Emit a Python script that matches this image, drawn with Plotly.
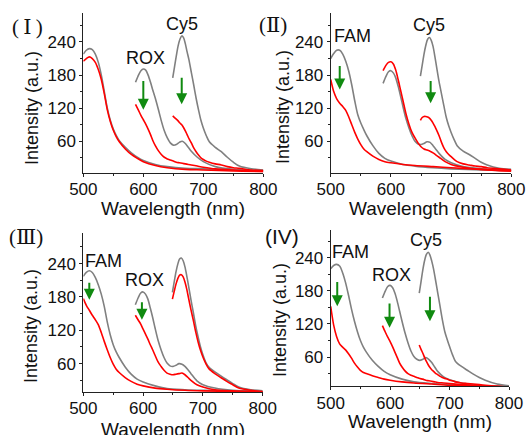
import plotly.graph_objects as go
from plotly.subplots import make_subplots

# ---------------- data ----------------
FAM_X = [500, 505, 510, 515, 520, 525, 530, 535, 540, 545, 550, 555, 560, 570, 580, 590, 600, 620, 640, 670, 700, 750, 800]
ROX_X = [587, 592, 596, 600, 604, 608, 612, 616, 620, 625, 630, 635, 640, 645, 650, 655, 660, 665, 670, 675, 680, 690, 700, 720, 750, 800]
CY5_X = [649, 652, 655, 658, 661, 664, 667, 670, 673, 676, 680, 684, 688, 692, 696, 700, 705, 710, 720, 730, 740, 750, 760, 780, 800]

# Panel I
P1_FAM_GRAY = [218, 225, 228, 226, 218, 203, 180, 150, 120, 98, 82, 70, 61, 49, 39, 31, 25, 18, 14, 11, 10, 8, 7]
P1_FAM_RED = [205, 210, 213, 210, 203, 190, 172, 146, 117, 96, 80, 68, 59, 46, 36, 29, 23, 16, 12, 9, 8, 6, 5]
P1_ROX_GRAY = [167, 180, 188, 191, 189, 180, 167, 152, 138, 118, 97, 79, 66, 57, 53, 54, 58, 60, 56, 49, 42, 31, 23, 14, 9, 6]
P1_ROX_RED = [127, 116, 107, 99, 91, 82, 72, 61, 52, 43, 36, 31, 28, 26, 24, 22, 21, 20, 19, 18, 17, 15, 13, 10, 8, 6]
P1_CY5_GRAY = [175, 195, 215, 233, 245, 251, 248, 237, 222, 208, 185, 162, 138, 117, 98, 84, 70, 59, 49, 41, 31, 22, 15, 10, 8]
P1_CY5_RED = [106, 103, 100, 97, 93, 90, 85, 79, 72, 65, 57, 48, 41, 35, 30, 27, 24, 22, 19, 17, 14, 12, 11, 8, 7]

# Panel II
P2_FAM_GRAY = [210, 219, 225, 225, 218, 205, 187, 162, 133, 108, 93, 81, 70, 52, 38, 29, 24, 18, 15, 12, 10, 8, 7]
P2_FAM_RED = [172, 150, 137, 129, 123, 116, 104, 90, 76, 64, 54, 46, 41, 33, 27, 23, 21, 18, 16, 14, 12, 9, 6]
P2_ROX_GRAY = [165, 178, 186, 188, 184, 175, 160, 142, 123, 101, 84, 70, 60, 55, 54, 56, 59, 58, 52, 45, 38, 27, 21, 14, 10, 7]
P2_ROX_RED = [188, 198, 203, 204, 200, 189, 172, 153, 134, 110, 91, 76, 66, 57, 50, 46, 44, 42, 39, 35, 31, 23, 18, 13, 9, 6]
P2_CY5_GRAY = [178, 198, 218, 234, 245, 248, 243, 232, 214, 194, 168, 146, 124, 103, 88, 76, 63, 52, 42, 36, 29, 22, 17, 11, 9]
P2_CY5_RED = [98, 103, 105, 105, 104, 102, 98, 93, 87, 80, 70, 58, 48, 41, 36, 32, 27, 23, 19, 17, 15, 14, 12, 10, 8]

# Panel III
P3_FAM_GRAY = [217, 224, 227, 224, 215, 202, 185, 163, 135, 112, 94, 81, 71, 54, 41, 32, 27, 20, 15, 13, 12, 11, 10]
P3_FAM_RED = [177, 165, 156, 147, 139, 130, 116, 100, 85, 71, 59, 50, 44, 35, 28, 23, 20, 16, 14, 12, 11, 10, 9]
P3_ROX_GRAY = [166, 179, 187, 189, 185, 176, 160, 143, 124, 102, 85, 71, 61, 56, 55, 57, 60, 59, 55, 49, 42, 29, 22, 16, 12, 10]
P3_ROX_RED = [147, 138, 131, 122, 113, 104, 94, 85, 75, 63, 55, 48, 43, 41, 40, 41, 42, 43, 40, 35, 30, 22, 18, 13, 11, 9]
P3_CY5_GRAY = [188, 207, 225, 239, 248, 250, 245, 234, 218, 200, 175, 152, 128, 108, 90, 76, 62, 54, 45, 38, 31, 24, 18, 13, 11]
P3_CY5_RED = [176, 190, 203, 213, 219, 220, 216, 207, 194, 178, 157, 138, 117, 99, 84, 72, 60, 51, 42, 35, 28, 22, 16, 12, 10]

# Panel IV
P4_FAM_GRAY = [220, 226, 228, 225, 213, 195, 172, 147, 125, 106, 90, 78, 69, 54, 43, 34, 28, 20, 15, 12, 10, 8, 7]
P4_FAM_RED = [152, 118, 97, 84, 78, 73, 66, 58, 49, 42, 36, 32, 30, 26, 23, 20, 18, 15, 13, 11, 9, 7, 6]
P4_ROX_GRAY = [167, 180, 188, 190, 186, 176, 161, 143, 125, 104, 86, 71, 61, 56, 54, 56, 59, 56, 50, 42, 34, 24, 19, 13, 9, 7]
P4_ROX_RED = [117, 105, 96, 88, 79, 69, 59, 49, 42, 35, 30, 27, 25, 23, 21, 20, 18, 17, 16, 15, 14, 13, 12, 10, 8, 6]
P4_CY5_GRAY = [176, 197, 218, 235, 246, 250, 245, 234, 220, 202, 177, 152, 127, 106, 92, 79, 64, 52, 43, 36, 29, 23, 18, 11, 8]
P4_CY5_RED = [82, 74, 67, 59, 52, 46, 41, 37, 34, 31, 28, 25, 23, 21, 20, 18, 17, 15, 13, 12, 11, 10, 9, 7, 6]

PANEL_LABELS = ["(\u2009Ⅰ\u2009)", "(Ⅱ)", "(Ⅲ)", "(IV)"]
X_TICKS = [500, 600, 700, 800]
Y_TICKS = [60, 120, 180, 240]
X_TITLE = "Wavelength (nm)"
Y_TITLE = "Intensity (a.u.)"

# dye labels (text, wavelength, intensity) per panel
DYE_LABELS = [
    [("ROX", 604, 211), ("Cy5", 664, 273)],
    [("FAM", 537, 250), ("Cy5", 663, 271)],
    [("FAM", 533, 245), ("ROX", 603, 211)],
    [("FAM", 534, 250), ("ROX", 602, 209), ("Cy5", 661, 273)],
]
# arrows (wavelength, start intensity, end intensity) per panel
ARROWS = [
    [(600, 172, 117), (664, 178, 127)],
    [(515, 199, 154), (666, 172, 129)],
    [(510, 208, 175), (598, 173, 139)],
    [(511, 199, 152), (599, 160, 113), (667, 172, 125)],
]

# ---------------- figure ----------------
GRAY = "#808080"
RED = "#ff0000"
GREEN = "#108a10"
FONT = "Liberation Sans, Arial, sans-serif"
SERIF = "Liberation Serif, DejaVu Serif, serif"

panels = [
    (1, 1, [P1_FAM_GRAY, P1_ROX_GRAY, P1_CY5_GRAY], [P1_FAM_RED, P1_ROX_RED, P1_CY5_RED]),
    (1, 2, [P2_FAM_GRAY, P2_ROX_GRAY, P2_CY5_GRAY], [P2_FAM_RED, P2_ROX_RED, P2_CY5_RED]),
    (2, 1, [P3_FAM_GRAY, P3_ROX_GRAY, P3_CY5_GRAY], [P3_FAM_RED, P3_ROX_RED, P3_CY5_RED]),
    (2, 2, [P4_FAM_GRAY, P4_ROX_GRAY, P4_CY5_GRAY], [P4_FAM_RED, P4_ROX_RED, P4_CY5_RED]),
]
XS = [FAM_X, ROX_X, CY5_X]

fig = make_subplots(rows=2, cols=2)

for r, c, grays, reds in panels:
    for xs, ys in zip(XS, grays):
        fig.add_trace(go.Scatter(x=xs, y=ys, mode="lines", line=dict(color=GRAY, width=1.6, shape="spline", smoothing=0.8),
                                 showlegend=False, hoverinfo="skip"), row=r, col=c)
    for xs, ys in zip(XS, reds):
        fig.add_trace(go.Scatter(x=xs, y=ys, mode="lines", line=dict(color=RED, width=1.6, shape="spline", smoothing=0.8),
                                 showlegend=False, hoverinfo="skip"), row=r, col=c)

x_domains = [[0.1584, 0.5006], [0.6287, 0.9721], [0.1584, 0.4994], [0.6287, 0.9677]]
y_domains = [[0.6030, 0.9694], [0.6030, 0.9694], [0.0989, 0.4644], [0.112, 0.472]]
y_ranges = [[3, 292], [3, 292], [9, 295], [7, 291]]

for i in range(4):
    sfx = "" if i == 0 else str(i + 1)
    fig.layout["xaxis" + sfx].update(
        domain=x_domains[i], range=[500, 800], tickvals=X_TICKS, ticks="outside", ticklen=3, tickwidth=1,
        tickcolor="#222", showline=True, linecolor="#222", linewidth=1, showgrid=False, zeroline=False,
        tickfont=dict(family=FONT, size=17, color="#111"), ticklabelstandoff=-2,
        minor=dict(ticks="outside", ticklen=2, dtick=50, tick0=500, tickcolor="#222", showgrid=False),
        automargin=False,
    )
    fig.layout["yaxis" + sfx].update(
        domain=y_domains[i], range=y_ranges[i], tickvals=Y_TICKS, ticks="outside", ticklen=3, tickwidth=1,
        tickcolor="#222", showline=True, linecolor="#222", linewidth=1, showgrid=False, zeroline=False,
        tickfont=dict(family=FONT, size=17, color="#111"),
        minor=dict(ticks="outside", ticklen=2, dtick=30, tick0=0, tickcolor="#222", showgrid=False),
        automargin=False,
    )

annotations = []
for i in range(4):
    sfx = "" if i == 0 else str(i + 1)
    xr, yr = "x" + sfx, "y" + sfx
    for text, wx, wy in DYE_LABELS[i]:
        annotations.append(dict(text=text, x=wx, y=wy, xref=xr, yref=yr, showarrow=False,
                                font=dict(family=FONT, size=18, color="#111")))
    for wx, y0, y1 in ARROWS[i]:
        annotations.append(dict(text="", x=wx, y=y1, ax=wx, ay=y0, xref=xr, yref=yr, axref=xr, ayref=yr,
                                showarrow=True, arrowhead=2, arrowsize=1.1, arrowwidth=2, arrowcolor=GREEN,
                                standoff=0, startstandoff=0))

# axis titles, placed as in the reference
ytitle_pos = [(32, 108), (283, 107), (31, 326), (280, 320)]
for px, py in ytitle_pos:
    annotations.append(dict(text=Y_TITLE, x=px / 526, y=1 - py / 435, xref="paper", yref="paper",
                            xanchor="center", yanchor="middle", textangle=-90, showarrow=False,
                            font=dict(family=FONT, size=18, color="#111")))
xtitle_pos = [(173, 208), (421, 208), (173, 429), (420, 421)]
for px, py in xtitle_pos:
    annotations.append(dict(text=X_TITLE, x=px / 526, y=1 - py / 435, xref="paper", yref="paper",
                            xanchor="center", yanchor="middle", showarrow=False,
                            font=dict(family=FONT, size=19, color="#111")))

label_pos = [(27, 27), (273, 25), (26, 237), (282, 236)]
for i, (px, py) in enumerate(label_pos):
    fam = SERIF if i < 3 else FONT
    annotations.append(dict(text=PANEL_LABELS[i], x=px / 526, y=1 - py / 435, xref="paper", yref="paper",
                            xanchor="center", yanchor="middle", showarrow=False,
                            font=dict(family=fam, size=21, color="#111")))

fig.update_layout(
    width=526, height=435, margin=dict(l=0, r=0, t=0, b=0),
    paper_bgcolor="white", plot_bgcolor="white", annotations=annotations, showlegend=False,
)

fig.write_html("out.html")
